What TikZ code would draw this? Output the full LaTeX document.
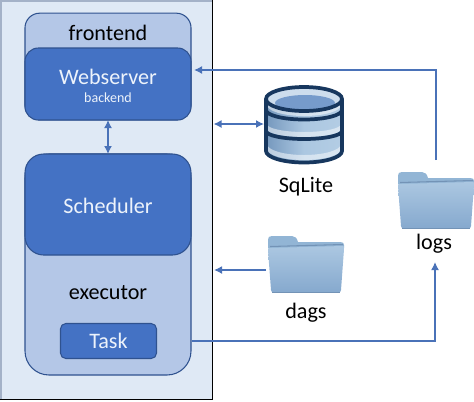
\documentclass[tikz,border=0pt]{standalone}
\usepackage{fontspec}
\setmainfont{Carlito}
\usetikzlibrary{arrows.meta}
\definecolor{panelc}{HTML}{DFE9F5}
\definecolor{lightc}{HTML}{B4C7E7}
\definecolor{darkc}{HTML}{4472C4}
\definecolor{edgec}{HTML}{2F528F}
\definecolor{linec}{HTML}{4A72B8}
\definecolor{navy}{HTML}{17375E}
\definecolor{labelc}{HTML}{EDF3FB}
\definecolor{foldtop}{HTML}{ABC7E1}
\definecolor{foldbot}{HTML}{86A9CE}
\definecolor{foldback}{HTML}{92B5D5}
\definecolor{foldline}{HTML}{7393B6}
\tikzset{
  box/.style={draw=edgec,line width=0.8pt,rounded corners=#1,inner sep=0pt,outer sep=0pt},
  box/.default=10pt,
  conn/.style={draw=linec,line width=1.1pt},
  tip/.style={-{Latex[length=6pt,width=6pt]}},
  tiptwo/.style={{Latex[length=6pt,width=6pt]}-{Latex[length=6pt,width=6pt]}},
  bigtext/.style={font=\fontsize{16.6}{18}\selectfont,inner sep=0pt},
  dark/.style={bigtext,text=black},
  pale/.style={bigtext,text=labelc},
  band/.style={draw=navy,line width=2.8pt},
  gleam/.style={fill=white,opacity=.5}
}
% #1 name, #2 left, #3 top (pixels), folder about 76 x 57
\newcommand{\folderic}[3]{%
  \begin{scope}[shift={(#2,#3)}]
    \fill[foldback] (0,8) -- (0,4) .. controls (0,1) and (1,0) .. (4,0) -- (24,0)
      .. controls (27,0) and (29,2) .. (30,6) -- (72,6) .. controls (75,6) and (76,7) .. (76,9) -- (76,12) -- (0,12) -- cycle;
    \shade[top color=foldtop,bottom color=foldbot]
      (1,12) -- (75,10) .. controls (76,10) and (76,11) .. (76,13) -- (73,54)
      .. controls (73,56) and (72,56) .. (70,56) -- (6,56) .. controls (4,56) and (3,56) .. (3,54) -- (0,14) .. controls (0,13) and (0,12) .. (1,12) -- cycle;
    \draw[foldline,line width=1pt] (4,56.5) -- (72,56.5);
    \draw[foldline,line width=0.8pt] (2,10.5) -- (75,8.5);
    \coordinate (#1) at (38,28);
  \end{scope}}
\begin{document}
\begin{tikzpicture}[x=0.75pt,y=-0.75pt]
\useasboundingbox (0,0) rectangle (474,401);
% panel
\fill[panelc] (0,0) rectangle (212.5,399.5);
\draw[color=lightc!70!gray,line width=1.2pt] (0.8,400) -- (0.8,0.8) -- (212,0.8);
\draw[black,line width=0.9pt] (212.5,0) -- (212.5,399.5) -- (0,399.5);
% front/web
\node[box=11pt,fill=lightc,minimum width=124.5pt,minimum height=80pt] (front) at (108,66.5) {};
\node[box=10pt,fill=darkc,minimum width=124.5pt,minimum height=54pt] (web) at (108,84) {};
% exec/sched
\node[box=18pt,fill=lightc,minimum width=124.5pt,minimum height=165.75pt] (exec) at (108,264.5) {};
\node[box=14pt,fill=darkc,minimum width=124.5pt,minimum height=75.75pt] (sched) at (108,204.5) {};
\node[box=4pt,fill=darkc,minimum width=72pt,minimum height=26.25pt] (task) at (108.5,341) {};
% labels
\node[dark] (tfront) at (108,33) {frontend};
\node[pale] (tweb) at (108,77) {Webserver};
\node[text=labelc,font=\fontsize{10.5}{11}\selectfont,inner sep=0pt] (tback) at (108,97.5) {backend};
\node[pale] (tsched) at (108,206) {Scheduler};
\node[dark] (texec) at (108,293) {executor};
\node[pale] (ttask) at (108.5,341) {Task};
% database
\shade[left color=foldbot!85!navy,right color=foldtop!90!white,middle color=foldtop]
  (266,99) -- (266,151) arc[start angle=180,end angle=0,x radius=38,y radius=12] -- (342,99)
  arc[start angle=0,end angle=-180,x radius=38,y radius=12];
\fill[foldtop!60!white] (304,99) ellipse[x radius=38,y radius=12];
\fill[foldbot!75!darkc] (305,103) ellipse[x radius=30,y radius=8];
\fill[gleam] (267,105) arc[start angle=180,end angle=0,x radius=37,y radius=11] -- (341,100) arc[start angle=0,end angle=180,x radius=37,y radius=11] -- cycle;
\fill[gleam] (267,129) arc[start angle=180,end angle=0,x radius=37,y radius=8] -- (341,124) arc[start angle=0,end angle=180,x radius=37,y radius=8] -- cycle;
\fill[gleam] (267,149) arc[start angle=180,end angle=0,x radius=37,y radius=11] -- (341,144) arc[start angle=0,end angle=180,x radius=37,y radius=11] -- cycle;
\draw[band] (304,99) ellipse[x radius=38,y radius=12];
\draw[band] (266,99) -- (266,151) arc[start angle=180,end angle=0,x radius=38,y radius=11.5] -- (342,99);
\draw[band] (266,110) arc[start angle=180,end angle=0,x radius=38,y radius=9.5];
\draw[band] (266,131) arc[start angle=180,end angle=0,x radius=38,y radius=8];
\node[minimum width=60pt,minimum height=59pt,inner sep=0pt] (db) at (304,124.5) {};
\node[bigtext] (tdb) at (306,186.5) {SqLite};
% folders
\folderic{logsf}{398}{172}
\folderic{dagsf}{268}{236}
\node[bigtext] (tlogs) at (434,243.5) {logs};
\node[bigtext] (tdags) at (306,312.5) {dags};
% connector end points
\coordinate (webin) at (194,70);
\coordinate (logout) at (436,160);
\coordinate (logcorner) at (436,70);
\coordinate (panelR) at (213.5,124);
\coordinate (dbL) at (264,124);
\coordinate (panelD) at (214,270);
\coordinate (dagsL) at (266,270);
\coordinate (taskout) at (192,341);
\coordinate (logcorn2) at (435,341);
\coordinate (logsin) at (435,262);
% connectors
\draw[conn,tip] (logout) -- (logcorner) -- (webin);
\draw[conn,tiptwo] (panelR) -- (dbL);
\draw[conn,tiptwo] (web.south) -- (sched.north);
\draw[conn,tip] (dagsL) -- (panelD);
\draw[conn,tip] (taskout) -- (logcorn2) -- (logsin);
\end{tikzpicture}
\end{document}
